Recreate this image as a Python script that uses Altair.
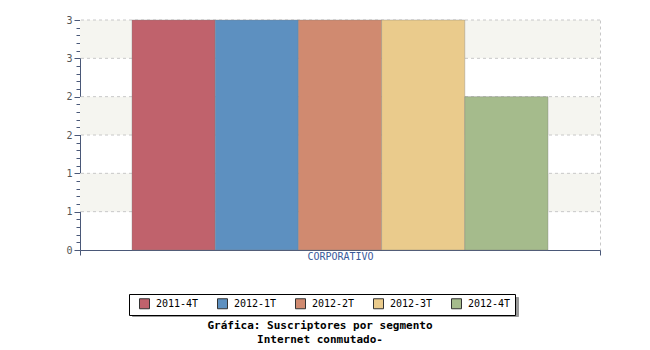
import altair as alt
import pandas as pd

segments = ["CORPORATIVO"] * 5
periods = ["2011-4T", "2012-1T", "2012-2T", "2012-3T", "2012-4T"]
values = [3, 3, 3, 3, 2]
colors = ["#c0626c", "#5d90c0", "#d08a70", "#eacb8c", "#a5bb8c"]
band_low = [0.5, 1.5, 2.5]
band_high = [1.0, 2.0, 3.0]
grid_vals = [0.5, 1.0, 1.5, 2.0, 2.5, 3.0]
y_ticks = [round(i / 10, 1) for i in range(31)]

df = pd.DataFrame({"segmento": segments, "periodo": periods, "valor": values})
bands = pd.DataFrame({"lo": band_low, "hi": band_high})
grid = pd.DataFrame({"g": grid_vals})

MONO = "DejaVu Sans Mono"
AXC = "#4a5878"
major = "abs(datum.value*2 - round(datum.value*2)) < 0.001"
yscale = alt.Scale(domain=[0, 3], nice=False)
yaxis = alt.Axis(
    values=y_ticks, grid=False, labelFont=MONO, labelFontSize=10, labelColor="#555",
    labelExpr=f"{major} ? format(datum.value, '.0f') : ''",
    labelPadding=2, domainColor=AXC, tickColor=AXC,
    tickSize={"condition": {"test": major, "value": 6}, "value": 4},
)

band_layer = alt.Chart(bands).mark_rect(color="#f5f5f0").encode(
    y=alt.Y("lo:Q", scale=yscale, axis=yaxis, title=None), y2="hi:Q"
)

grid_layer = alt.Chart(grid).mark_rule(color="#c8c8c8", strokeDash=[3, 3], strokeWidth=1).encode(
    y=alt.Y("g:Q", scale=yscale, axis=yaxis, title=None)
)

bars = alt.Chart(df).mark_bar(stroke="#777", strokeOpacity=0.35, strokeWidth=1).encode(
    x=alt.X(
        "segmento:N",
        title=None,
        scale=alt.Scale(paddingInner=0, paddingOuter=0),
        axis=alt.Axis(
            labelAngle=0, labelFont=MONO, labelFontSize=10, labelColor="#3a5a9a",
            labelPadding=-4, domainColor=AXC, tickColor=AXC, tickSize=5, tickBand="extent",
            grid=True, gridColor="#c8c8c8", gridDash=[3, 3],
        ),
    ),
    xOffset=alt.XOffset("periodo:N", sort=periods,
                        scale=alt.Scale(paddingInner=0, paddingOuter=0.625)),
    y=alt.Y("valor:Q", title=None, scale=yscale, axis=yaxis),
    color=alt.Color(
        "periodo:N",
        sort=periods,
        scale=alt.Scale(domain=periods, range=colors),
        legend=alt.Legend(
            title=None, orient="none", legendX=49, legendY=274, direction="horizontal",
            columns=5, symbolType="square", symbolSize=100, symbolStrokeColor="#333",
            symbolStrokeWidth=1, symbolOffset=6, labelFont=MONO, labelFontSize=10,
            labelColor="#000", strokeColor="#000", fillColor="#fff", padding=4,
            columnPadding=12, labelOffset=6, zindex=2,
        ),
    ),
)

shadow = alt.Chart(df).mark_point(opacity=0).encode(
    x=alt.X("segmento:N", title=None),
    y=alt.Y("valor:Q", title=None, scale=yscale, axis=yaxis),
    shape=alt.Shape(
        "periodo:N",
        sort=periods,
        scale=alt.Scale(domain=periods, range=["square"] * 5),
        legend=alt.Legend(
            title=None, orient="none", legendX=52, legendY=277, direction="horizontal",
            columns=5, symbolSize=100, symbolOpacity=0, symbolOffset=6, labelFont=MONO,
            labelFontSize=10, labelExpr="''", labelOpacity=0, strokeColor="#999",
            fillColor="#999", padding=4, columnPadding=12, labelOffset=48, zindex=1,
        ),
    ),
)

chart = alt.layer(band_layer, grid_layer, bars, shadow).resolve_legend(
    color="independent", shape="independent"
).properties(
    width=520,
    height=230,
    autosize=alt.AutoSizeParams(type="none"),
    padding={"left": 80, "top": 20, "right": 50, "bottom": 100},
    title=alt.TitleParams(
        text=["Gráfica: Suscriptores por segmento", "Internet conmutado-"],
        orient="bottom", anchor="middle", font=MONO, fontSize=11, fontWeight="bold",
        color="#000", offset=3, dx=-20, lineHeight=14,
    ),
).configure_view(stroke=None)

chart.save("out.html", embed_options={"renderer": "svg", "actions": False})
